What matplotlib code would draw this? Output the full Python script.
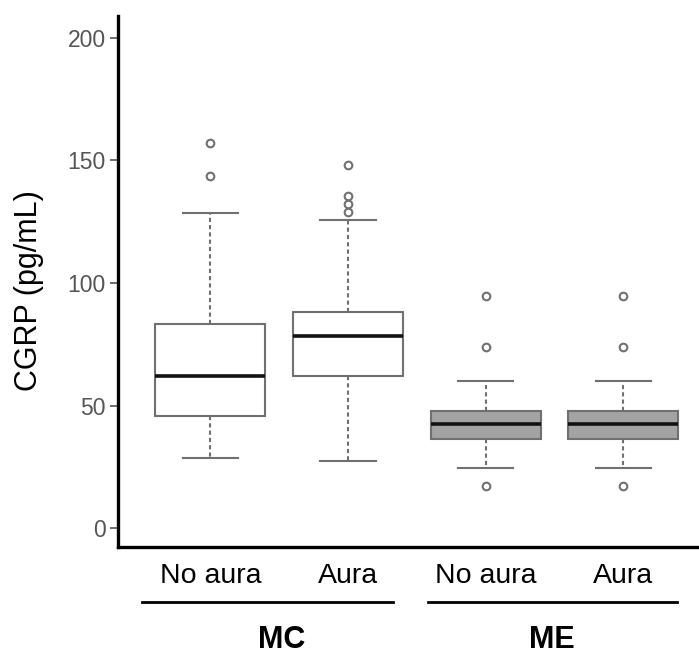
import matplotlib
matplotlib.use("Agg")
import matplotlib.pyplot as plt

plt.rcParams['font.family'] = ['Liberation Sans', 'DejaVu Sans']

# box statistics (pg/mL)
labels = ["No aura", "Aura", "No aura", "Aura"]
whislo = [28.8, 27.3, 24.4, 24.4]
q1 = [45.9, 62.2, 36.4, 36.4]
med = [62.2, 78.5, 42.5, 42.5]
q3 = [83.3, 88.2, 47.9, 47.9]
whishi = [128.6, 125.6, 60.2, 60.2]
fliers = [[143.5, 157.2],
          [128.9, 132.1, 135.4, 148.0],
          [17.3, 73.8, 94.6],
          [17.3, 73.8, 94.6]]
fills = ["white", "white", "#a3a3a3", "#a3a3a3"]

groups = ["MC", "ME"]
group_spans = [(0.5, 2.33), (2.58, 4.39)]
group_centers = [1.52, 3.48]

stats = []
for i in range(len(labels)):
    stats.append(dict(whislo=whislo[i], q1=q1[i], med=med[i], q3=q3[i],
                      whishi=whishi[i], fliers=fliers[i]))

fig = plt.figure(figsize=(6.99, 6.57), dpi=100)
ax = fig.add_axes([0.169, 0.168, 0.831, 0.808])

edge = "#707070"
bp = ax.bxp(stats, positions=[1, 2, 3, 4], widths=0.8, patch_artist=True,
            boxprops=dict(edgecolor=edge, linewidth=1.5),
            medianprops=dict(color="#111111", linewidth=2.6),
            whiskerprops=dict(color=edge, linewidth=1.5, linestyle=(0, (2, 1.5))),
            capprops=dict(color=edge, linewidth=1.5),
            flierprops=dict(marker="o", markersize=5.5, markerfacecolor="none",
                            markeredgecolor=edge, markeredgewidth=1.5))
for patch, c in zip(bp["boxes"], fills):
    patch.set_facecolor(c)
for cap in bp["caps"]:
    x0, x1 = cap.get_xdata()
    m = (x0 + x1) / 2
    cap.set_xdata([m - 0.2, m + 0.2])

ax.set_xlim(0.33, 4.55)
ax.set_ylim(-7.5, 209)
ax.set_yticks([0, 50, 100, 150, 200])
ax.tick_params(axis="y", colors="#555555", labelsize=16.5, length=6, width=1.2, pad=3)
ax.set_xticks([1, 2, 3, 4])
ax.set_xticklabels(labels, fontsize=20.5, color="black")
ax.tick_params(axis="x", length=0, pad=12)

for s in ["top", "right"]:
    ax.spines[s].set_visible(False)
for s in ["left", "bottom"]:
    ax.spines[s].set_linewidth(2.4)
    ax.spines[s].set_color("black")

ax.set_ylabel("CGRP (pg/mL)", fontsize=22)
ax.yaxis.set_label_coords(-0.127, 0.482)

trans = ax.get_xaxis_transform()
for name, (a, b), c in zip(groups, group_spans, group_centers):
    ax.plot([a, b], [-0.104, -0.104], color="black", linewidth=2, transform=trans,
            clip_on=False)
    ax.text(c, -0.176, name, transform=trans, ha="center", va="center",
            fontsize=22, fontweight="bold")

fig.savefig("out.png", dpi=100)
